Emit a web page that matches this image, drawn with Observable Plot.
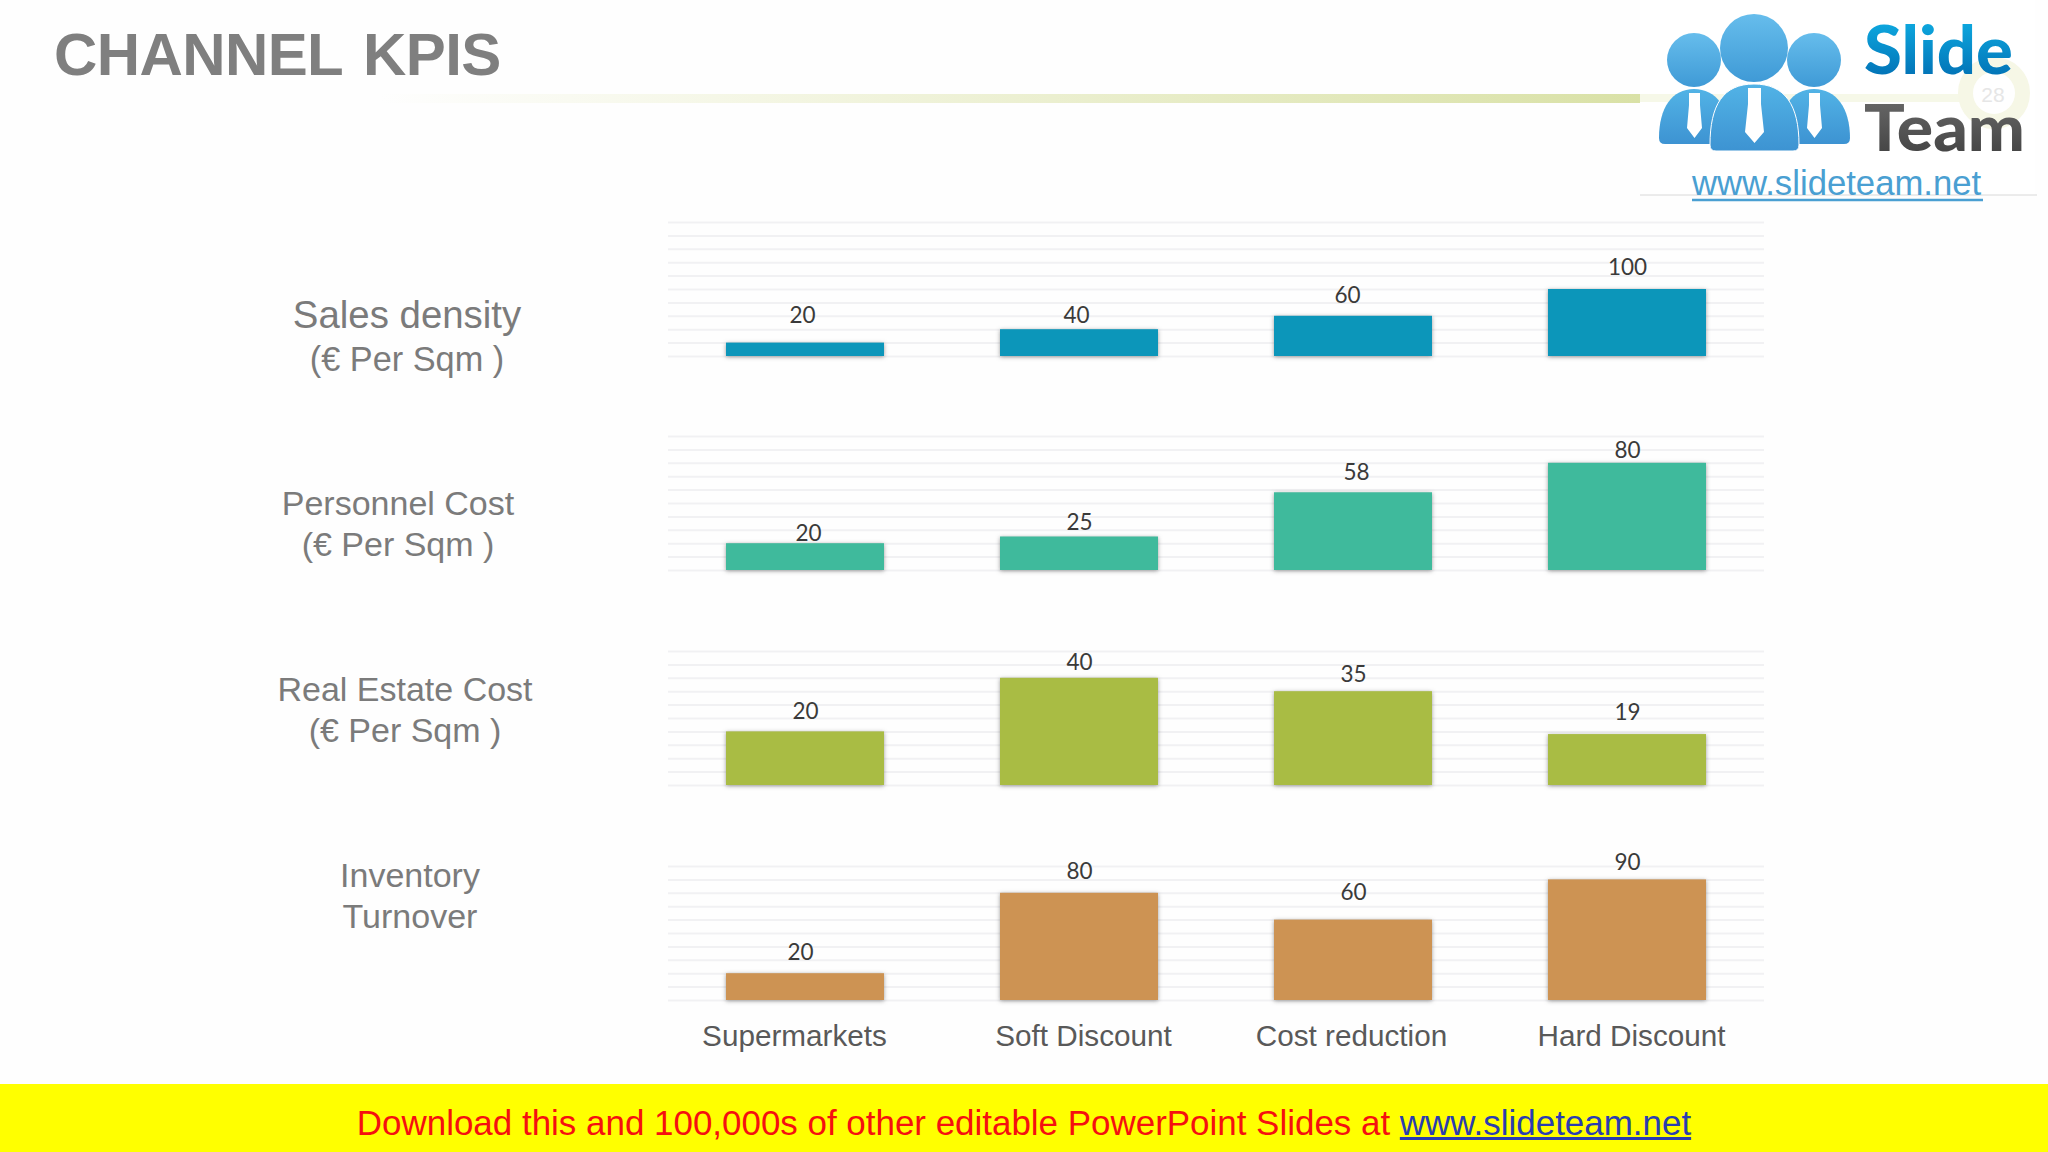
<!DOCTYPE html>
<html lang="en">
<head>
<meta charset="utf-8">
<title>Channel KPIs</title>
<script src="https://cdn.jsdelivr.net/npm/d3@7"></script>
<script src="https://cdn.jsdelivr.net/npm/@observablehq/plot@0.6"></script>
<style>
html,body{margin:0;padding:0;background:#fefefe}
#stage{position:relative;width:2048px;height:1152px;overflow:hidden;background:#fefefe;font-family:"Liberation Sans",Arial,sans-serif}
#stage>*{position:absolute}
#title{left:54px;top:22px;font-size:60px;font-weight:700;color:#7f7f7f;white-space:pre;line-height:66px;letter-spacing:-0.6px;word-spacing:5px}
#rule{left:380px;top:94px;width:1260px;height:9px;background:linear-gradient(90deg,#fefefe,#f4f6e4 30%,#d9e1a6 100%)}
.kpi{transform:translateX(-50%);text-align:center;color:#7b7b7b;white-space:pre;line-height:41px;font-size:34px}
#footer{left:0;top:1084px;width:2048px;height:68px;background:#ffff00;font-size:34.95px;line-height:78px;text-align:center;color:#f51010;white-space:pre}
#footer a{color:#2a3db0;text-decoration:underline}
#logo{left:1640px;top:0}
</style>
</head>
<body>
<div id="stage">
  <div id="rule"></div>
  <div id="title">CHANNEL KPIS</div>
  <div class="kpi" style="left:407px;top:293px;font-size:38.400px;line-height:43px">Sales density
<span style="font-size:34.300px">(€ Per Sqm )</span></div>
  <div class="kpi" style="left:398px;top:483px">Personnel Cost
(€ Per Sqm )</div>
  <div class="kpi" style="left:405px;top:669px">Real Estate Cost
(€ Per Sqm )</div>
  <div class="kpi" style="left:410px;top:855px">Inventory
Turnover</div>
  <svg id="logo" width="408" height="205" viewBox="1640 0 408 205">
    <defs>
      <linearGradient id="head" x1="0" y1="0" x2="0" y2="1"><stop offset="0" stop-color="#66bdec"/><stop offset="1" stop-color="#3f9ad6"/></linearGradient>
      <linearGradient id="body" x1="0" y1="0" x2="0" y2="1"><stop offset="0" stop-color="#52b3e6"/><stop offset="1" stop-color="#3d93d2"/></linearGradient>
      <linearGradient id="slide" x1="0" y1="0" x2="0" y2="1"><stop offset="0" stop-color="#10b4e8"/><stop offset="1" stop-color="#0068ae"/></linearGradient>
      <linearGradient id="team" x1="0" y1="0" x2="0" y2="1"><stop offset="0" stop-color="#6e6e6e"/><stop offset="1" stop-color="#3e3e3e"/></linearGradient>
    </defs>
    <rect x="1640" y="0" width="395" height="195" fill="#ffffff"/>
    <line x1="1640" y1="195" x2="2037" y2="195" stroke="#d8d8d8" stroke-width="1"/>
    <rect x="1640" y="94" width="320" height="8" fill="#f6f8e8"/>
    <circle cx="1994" cy="93" r="28.500" fill="#ffffff" stroke="#f6f7e6" stroke-width="15"/>
    <text x="1993" y="102" font-size="21" fill="#e6e6e6" text-anchor="middle" font-family="Liberation Sans">28</text>
    <path d="M1659 138 Q1659 144 1665 144 H1724 Q1730 144 1730 138 C1730 108 1716 89 1694 89 C1672 89 1659 108 1659 138 Z" fill="url(#body)"/>
    <path d="M1779 138 Q1779 144 1785 144 H1844 Q1850 144 1850 138 C1850 108 1836 89 1814 89 C1792 89 1779 108 1779 138 Z" fill="url(#body)"/>
    <path d="M1710 145 Q1710 151 1716 151 H1793 Q1799 151 1799 145 C1799 105 1785 84 1754 84 C1723 84 1710 105 1710 145 Z" fill="url(#body)" stroke="#fff" stroke-width="1"/>
    <circle cx="1694" cy="60" r="27" fill="url(#head)"/>
    <circle cx="1814" cy="60" r="27" fill="url(#head)"/>
    <circle cx="1754" cy="48" r="34" fill="url(#head)"/>
    <path d="M1689 93 H1700 V105 L1702 128 L1694.500 138 L1687 128 L1689 105 Z" fill="#fff"/>
    <path d="M1748 88 H1761 V104 L1764 132 L1754.500 143 L1745 132 L1748 104 Z" fill="#fff"/>
    <path d="M1809 93 H1820 V105 L1822 128 L1814.500 138 L1807 128 L1809 105 Z" fill="#fff"/>
    <text x="1864" y="74" font-family="Lato" font-weight="900" font-size="66" fill="url(#slide)" textLength="149" lengthAdjust="spacingAndGlyphs">Slide</text>
    <text x="1864" y="151" font-family="Lato" font-weight="900" font-size="64" fill="url(#team)" textLength="161" lengthAdjust="spacingAndGlyphs">Team</text>
    <text x="1692" y="195" font-family="Liberation Sans" font-size="34.700" fill="#4a9fd2">www.slideteam.net</text>
    <line x1="1692" y1="200" x2="1983" y2="200" stroke="#4a9fd2" stroke-width="2.500"/>
  </svg>
  <div id="footer">Download this and 100,000s of other editable PowerPoint Slides at <a>www.slideteam.net</a></div>
</div>
<script>
// Chart data
const categories = ["Supermarkets", "Soft Discount", "Cost reduction", "Hard Discount"];
const salesDensity = [20, 40, 60, 100];
const personnelCost = [20, 25, 58, 80];
const realEstateCost = [20, 40, 35, 19];
const inventoryTurnover = [20, 80, 60, 90];

// Panel layout, separate from the data
const plotHeight = 134, topRoom = 30, bottomRoom = 2, axisRoom = 70;
const stage = document.getElementById("stage");

function panel({values, color, max, step, base, gaps, shifts, axis}) {
  const rows = categories.map((category, i) => ({category, value: values[i]}));
  const marginBottom = axis ? axisRoom : bottomRoom;
  const chart = Plot.plot({
    width: 1096,
    height: topRoom + plotHeight + marginBottom,
    marginLeft: 0, marginRight: 0, marginTop: topRoom, marginBottom,
    style: {background: "transparent", overflow: "visible"},
    x: {type: "band", domain: categories, paddingInner: 0.425, paddingOuter: 0.2125, axis: null},
    y: {domain: [0, max], axis: null},
    marks: [
      Plot.gridY(d3.range(0, max + step, step), {stroke: "#f1f1f3", strokeOpacity: 1, strokeWidth: 2}),
      Plot.barY(rows, {x: "category", y: "value", fill: color, imageFilter: "drop-shadow(0 1px 2px rgba(60,60,60,.5))"}),
      ...rows.map((r, i) => Plot.text([r], {
        x: "category", y: "value", text: "value",
        dx: shifts[i], dy: -gaps[i],
        fontFamily: "Lato", fontSize: 22.5, fill: "#3a3a3a"
      })),
      ...(axis ? categories.map((c, i) => Plot.axisX([c], {
        anchor: "bottom", tickSize: 0, tickPadding: 24, label: null,
        dx: [-11, 4, -2, 4][i],
        fontFamily: "Liberation Sans", fontSize: 29.7, fill: "#595959"
      })) : [])
    ]
  });
  chart.style.position = "absolute";
  chart.style.left = "668px";
  chart.style.top = (base - plotHeight - topRoom) + "px";
  stage.appendChild(chart);
}

panel({values: salesDensity, color: "#0c96ba", max: 200, step: 20, base: 355.5,
  gaps: [27, 14, 21, 22], shifts: [-3, -3, -6, 0]});
panel({values: personnelCost, color: "#3fba9c", max: 100, step: 10, base: 570,
  gaps: [10, 14, 20, 13], shifts: [3, 0, 3, 0]});
panel({values: realEstateCost, color: "#a9bc44", max: 50, step: 5, base: 785,
  gaps: [20, 16, 17, 22], shifts: [0, 0, 0, 0]});
panel({values: inventoryTurnover, color: "#cd9353", max: 100, step: 10, base: 1000,
  gaps: [21, 22, 27, 17], shifts: [-5, 0, 0, 0], axis: true});
</script>
</body>
</html>
